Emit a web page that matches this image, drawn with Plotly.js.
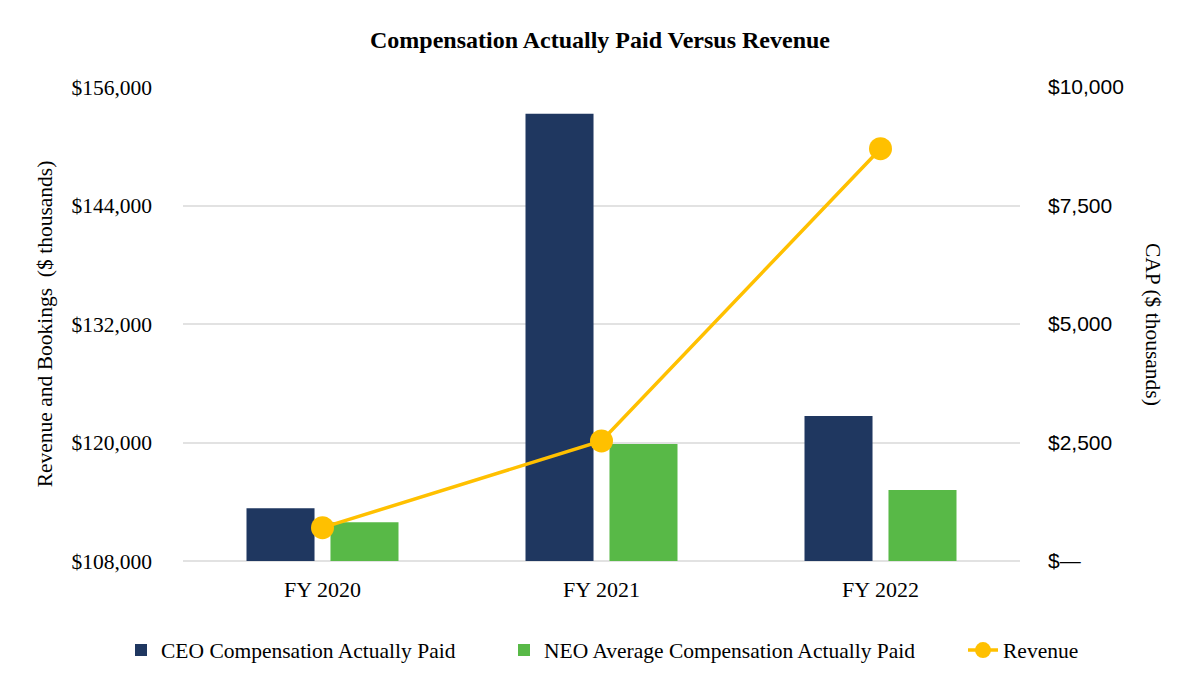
<!DOCTYPE html>
<html>
<head>
<meta charset="utf-8">
<script src="https://cdn.plot.ly/plotly-3.0.1.min.js"></script>
<style>html,body{margin:0;padding:0;background:#fff;}#chart{width:1200px;height:700px;}</style>
</head>
<body>
<div id="chart"></div>
<script>
const categories = ["FY 2020", "FY 2021", "FY 2022"];
const ceoCap = [1112, 9436, 3061];
const neoCap = [817, 2470, 1499];
const revenue = [111374, 120160, 149748];
const revTickVals = [108000, 120000, 132000, 144000, 156000];
const revTickText = ["$108,000", "$120,000", "$132,000", "$144,000", "$156,000"];
const capTickVals = [0, 2500, 5000, 7500, 10000];
const capTickText = ["$\u2014", "$2,500", "$5,000", "$7,500", "$10,000"];

const serif = "Liberation Serif, Times New Roman, serif";
const sans = "Liberation Sans, Arial, sans-serif";

const traces = [
  {type: "bar", name: "CEO Compensation Actually Paid", x: categories, y: ceoCap,
   yaxis: "y", marker: {color: "#1F3760"}, legend: "legend"},
  {type: "bar", name: "NEO Average Compensation Actually Paid", x: categories, y: neoCap,
   yaxis: "y", marker: {color: "#58B947"}, legend: "legend2"},
  {type: "scatter", mode: "lines+markers", name: "Revenue", x: categories, y: revenue,
   yaxis: "y2", line: {color: "#FFC000", width: 3.5}, marker: {color: "#FFC000", size: 23},
   legend: "legend3"}
];

const legendBase = {orientation: "h", yanchor: "middle", xanchor: "left", y: -0.188,
  font: {family: serif, size: 21.5, color: "#000"}, bgcolor: "rgba(0,0,0,0)"};

const layout = {
  width: 1200, height: 700,
  margin: {l: 183, r: 180, t: 87, b: 139},
  paper_bgcolor: "#fff", plot_bgcolor: "#fff",
  title: {text: "<b>Compensation Actually Paid Versus Revenue</b>", font: {family: serif, size: 24, color: "#000"},
          x: 0.5, xref: "container", xanchor: "center", y: 1 - 40/700, yref: "container", yanchor: "middle"},
  barmode: "group", bargap: 0.398, bargroupgap: 0.19,
  xaxis: {type: "category", showgrid: false, zeroline: false, showline: false, ticks: "",
          tickfont: {family: serif, size: 22, color: "#000"}, ticklabelstandoff: 13},
  yaxis: {side: "right", range: [0, 10000], tickvals: capTickVals, ticktext: capTickText,
          tickfont: {family: sans, size: 21, color: "#000"}, showgrid: true, gridcolor: "#E2E2E2", gridwidth: 2,
          zeroline: true, zerolinecolor: "#E2E2E2", zerolinewidth: 2, showline: false, ticks: "", ticklabelstandoff: 27},
  yaxis2: {side: "left", overlaying: "y", range: [108000, 156000], tickvals: revTickVals, ticktext: revTickText,
           tickfont: {family: serif, size: 21.5, color: "#000"}, showgrid: false, zeroline: false, showline: false,
           ticks: "", ticklabelstandoff: 30,
           title: {text: "Revenue and Bookings \u00a0($ thousands)", font: {family: serif, size: 21.5, color: "#000"}, standoff: 12}},
  legend: Object.assign({}, legendBase, {x: (121 - 183) / 837}),
  legend2: Object.assign({}, legendBase, {x: (504 - 183) / 837}),
  legend3: Object.assign({}, legendBase, {x: (963 - 183) / 837}),
  annotations: [
    {text: "CAP ($ thousands)", textangle: 90, xref: "paper", yref: "paper", x: (1153 - 183) / 837, y: 0.5,
     xanchor: "center", yanchor: "middle", showarrow: false, font: {family: serif, size: 21.5, color: "#000"}}
  ],
  showlegend: true
};

Plotly.newPlot("chart", traces, layout, {displayModeBar: false, staticPlot: true});
</script>
</body>
</html>
